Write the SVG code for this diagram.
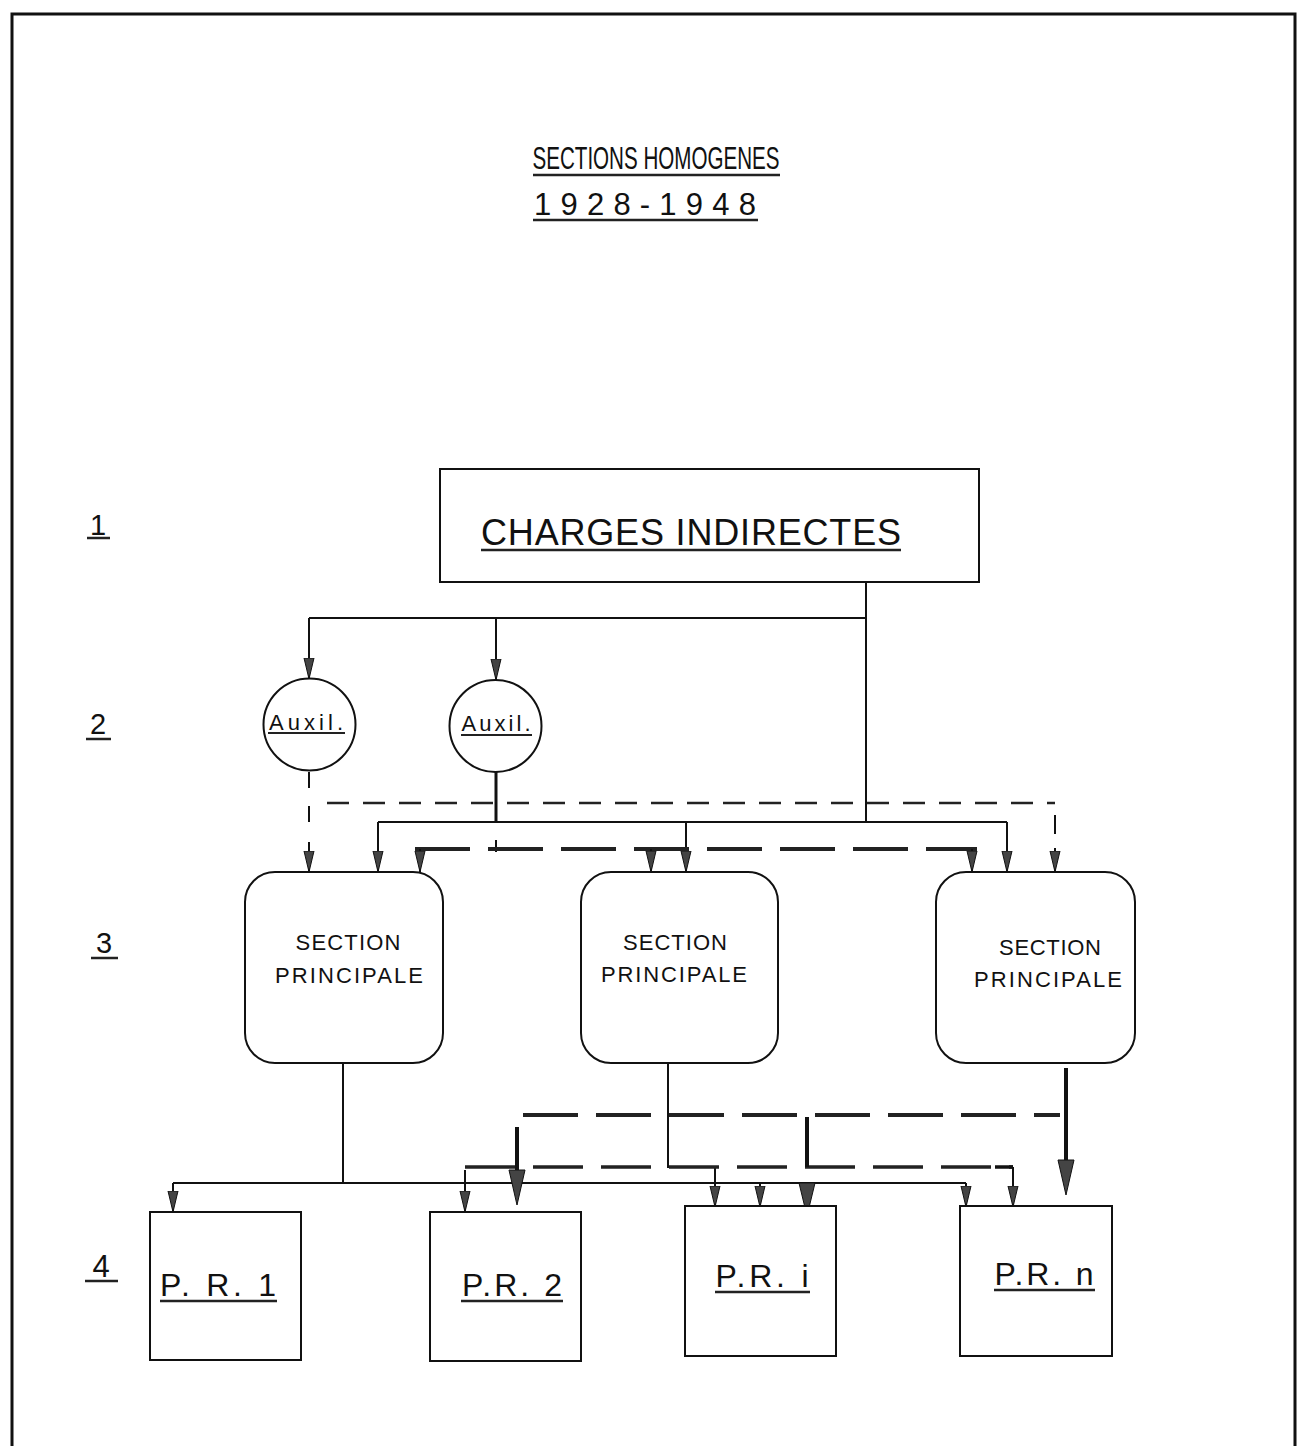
<svg xmlns="http://www.w3.org/2000/svg" width="1301" height="1446" viewBox="0 0 1301 1446">
<style>
.ln{fill:none;stroke:#111;stroke-width:2}
.thk{fill:none;stroke:#111;stroke-width:4}
.d1{fill:none;stroke:#222;stroke-width:2.5;stroke-dasharray:22 14}
.d2{fill:none;stroke:#222;stroke-width:4;stroke-dasharray:55 18}
.box{fill:#fff;stroke:#111;stroke-width:2}
.t{font-family:"Liberation Sans",Arial,sans-serif;fill:#111}
.ul{stroke:#222;stroke-width:2.5}
.ah{fill:#444;stroke:#111;stroke-width:1}
</style>
<defs>
<marker id="arr" markerUnits="userSpaceOnUse" markerWidth="22" markerHeight="12" viewBox="0 0 22 12" refX="21" refY="6" orient="auto">
<path d="M0,1 L21,6 L0,11 z" fill="#444" stroke="#111" stroke-width="1"/>
</marker>
</defs>
<rect x="0" y="0" width="1301" height="1446" fill="#fff"/>
<rect x="12" y="14" width="1283" height="1450" fill="none" stroke="#111" stroke-width="3"/>

<g id="title">
<text class="t" x="656" y="169" font-size="32" text-anchor="middle" textLength="247" lengthAdjust="spacingAndGlyphs">SECTIONS HOMOGENES</text>
<line class="ul" x1="533" y1="175" x2="780" y2="175"/>
<text class="t" x="645" y="215" font-size="31" text-anchor="middle" textLength="222" lengthAdjust="spacing">1928-1948</text>
<line class="ul" x1="533" y1="220" x2="758" y2="220"/>
</g>

<g id="levels">
<text class="t" x="98" y="535" font-size="29" text-anchor="middle">1</text>
<line class="ul" x1="87" y1="538" x2="110" y2="538"/>
<text class="t" x="98" y="734" font-size="29" text-anchor="middle">2</text>
<line class="ul" x1="86" y1="739" x2="111" y2="739"/>
<text class="t" x="104" y="953" font-size="29" text-anchor="middle">3</text>
<line class="ul" x1="91" y1="958" x2="118" y2="958"/>
<text class="t" x="101" y="1277" font-size="31" text-anchor="middle">4</text>
<line class="ul" x1="85" y1="1281" x2="118" y2="1281"/>
</g>

<g id="connectors">
<path class="ln" d="M866,582 V822"/>
<path class="ln" d="M309,618 H866"/>
<path class="ln" d="M309,618 V679" marker-end="url(#arr)"/>
<path class="ln" d="M496,618 V680" marker-end="url(#arr)"/>
<path class="thk" d="M496,772 V822" style="stroke-width:3"/>
<path class="ln" d="M496,840 V852"/>
<path class="ln" d="M378,822 H1007"/>
<path class="ln" d="M378,822 V872" marker-end="url(#arr)"/>
<path class="ln" d="M686,822 V872" marker-end="url(#arr)"/>
<path class="ln" d="M1007,822 V872" marker-end="url(#arr)"/>
<path class="ln" d="M309,772 V836" style="stroke-dasharray:16 18"/>
<path class="ln" d="M309,842 V872" marker-end="url(#arr)"/>
<path class="d1" d="M327,803 H1055"/>
<path class="ln" d="M1055,815 V834"/>
<path class="ln" d="M1055,848 V872" marker-end="url(#arr)"/>
<path class="d2" d="M415,849 H977"/>
<path class="ln" d="M420,849 V872" marker-end="url(#arr)"/>
<path class="ln" d="M651,849 V872" marker-end="url(#arr)"/>
<path class="ln" d="M972,849 V872" marker-end="url(#arr)"/>

<path class="ln" d="M343,1063 V1183"/>
<path class="ln" d="M173,1183 H966"/>
<path class="ln" d="M173,1183 V1212" marker-end="url(#arr)"/>
<path class="ln" d="M760,1183 V1207" marker-end="url(#arr)"/>
<path class="ln" d="M966,1183 V1207" marker-end="url(#arr)"/>
<path class="ln" d="M668,1063 V1167 H715 V1207" marker-end="url(#arr)"/>
<path class="d2" d="M465,1167 H1013" style="stroke-width:3.5;stroke-dasharray:50 18"/>
<path class="ln" d="M995,1167 H1013" style="stroke-width:3.5"/>
<path class="ln" d="M465,1170 V1212" marker-end="url(#arr)"/>
<path class="ln" d="M1013,1167 V1207" marker-end="url(#arr)"/>
<path class="d2" d="M523,1115 H1060"/>
<path class="thk" d="M1066,1068 V1165"/>
<polygon class="ah" points="1058,1160 1074,1160 1066,1195"/>
<path class="thk" d="M517,1127 V1172"/>
<polygon class="ah" points="509,1170 525,1170 517,1205"/>
<path class="thk" d="M807,1117 V1167"/>
<polygon class="ah" points="799,1183 815,1183 807,1216"/>
</g>

<g id="charges">
<rect class="box" x="440" y="469" width="539" height="113"/>
<text class="t" x="691" y="545" font-size="36" text-anchor="middle" textLength="420" lengthAdjust="spacing">CHARGES INDIRECTES</text>
<line class="ul" x1="481" y1="550" x2="901" y2="550"/>
</g>

<g id="auxil1">
<circle class="box" cx="309.5" cy="724.5" r="46"/>
<text class="t" x="306" y="730" font-size="22" text-anchor="middle" textLength="74" lengthAdjust="spacing">Auxil.</text>
<line class="ul" x1="268" y1="733" x2="345" y2="733" style="stroke-width:2"/>
</g>
<g id="auxil2">
<circle class="box" cx="495.5" cy="726" r="46"/>
<text class="t" x="496" y="731" font-size="22" text-anchor="middle" textLength="69" lengthAdjust="spacing">Auxil.</text>
<line class="ul" x1="461" y1="735" x2="532" y2="735" style="stroke-width:2"/>
</g>

<g id="sp1">
<rect class="box" x="245" y="872" width="198" height="191" rx="30" ry="30"/>
<text class="t" x="348" y="950" font-size="22" text-anchor="middle" textLength="105" lengthAdjust="spacing">SECTION</text>
<text class="t" x="349" y="983" font-size="22" text-anchor="middle" textLength="148" lengthAdjust="spacing">PRINCIPALE</text>
</g>
<g id="sp2">
<rect class="box" x="581" y="872" width="197" height="191" rx="30" ry="30"/>
<text class="t" x="675" y="950" font-size="22" text-anchor="middle" textLength="104" lengthAdjust="spacing">SECTION</text>
<text class="t" x="674" y="982" font-size="22" text-anchor="middle" textLength="146" lengthAdjust="spacing">PRINCIPALE</text>
</g>
<g id="sp3">
<rect class="box" x="936" y="872" width="199" height="191" rx="30" ry="30"/>
<text class="t" x="1050" y="955" font-size="22" text-anchor="middle" textLength="102" lengthAdjust="spacing">SECTION</text>
<text class="t" x="1048" y="987" font-size="22" text-anchor="middle" textLength="148" lengthAdjust="spacing">PRINCIPALE</text>
</g>

<g id="pr1">
<rect class="box" x="150" y="1212" width="151" height="148"/>
<text class="t" x="218" y="1296" font-size="32" text-anchor="middle" textLength="116" lengthAdjust="spacing">P. R. 1</text>
<line class="ul" x1="160" y1="1301" x2="277" y2="1301"/>
</g>
<g id="pr2">
<rect class="box" x="430" y="1212" width="151" height="149"/>
<text class="t" x="512" y="1296" font-size="32" text-anchor="middle" textLength="100" lengthAdjust="spacing">P.R. 2</text>
<line class="ul" x1="461" y1="1301" x2="563" y2="1301"/>
</g>
<g id="pri">
<rect class="box" x="685" y="1206" width="151" height="150"/>
<text class="t" x="762" y="1287" font-size="32" text-anchor="middle" textLength="93" lengthAdjust="spacing">P.R. i</text>
<line class="ul" x1="715" y1="1292" x2="810" y2="1292"/>
</g>
<g id="prn">
<rect class="box" x="960" y="1206" width="152" height="150"/>
<text class="t" x="1044" y="1285" font-size="32" text-anchor="middle" textLength="99" lengthAdjust="spacing">P.R. n</text>
<line class="ul" x1="994" y1="1290" x2="1095" y2="1290"/>
</g>
</svg>
